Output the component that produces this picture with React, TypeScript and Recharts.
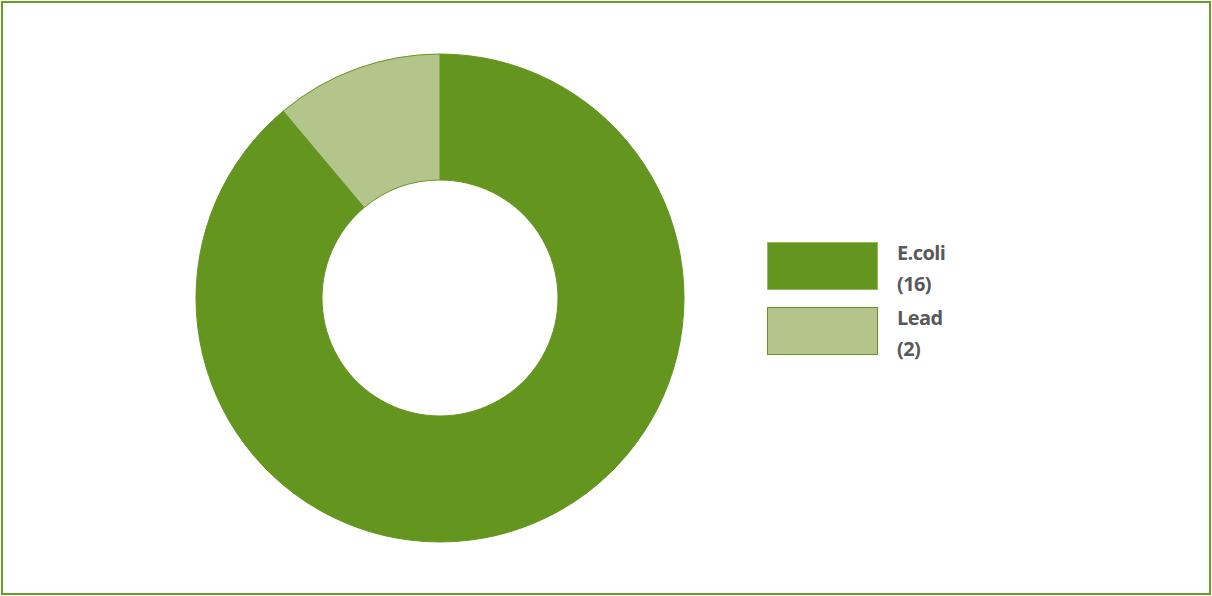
import React from 'react';
import { PieChart, Pie, Cell, Legend } from 'recharts';

const categories = ['E.coli', 'Lead'];
const values = [16, 2];
const fills = ['#64951F', '#B3C58B'];
const strokes = ['#64951F', '#64951F'];

const data = categories.map((name, i) => ({ name, value: values[i] }));

const renderLegend = () => (
  <div style={{ position: 'relative', width: 200, height: 120 }}>
    {categories.map((name, i) => (
      <div key={name} style={{ position: 'absolute', left: 0, top: i * 65, width: 200, height: 60 }}>
        <div
          style={{
            position: 'absolute',
            left: 0,
            top: 0,
            width: 111,
            height: 48,
            boxSizing: 'border-box',
            background: fills[i],
            border: `1.5px solid ${i === 0 ? '#9BBB59' : '#64951F'}`,
          }}
        />
        <div
          style={{
            position: 'absolute',
            left: 130,
            top: -5,
            fontFamily: '"Open Sans", sans-serif',
            fontWeight: 700,
            fontSize: 20,
            lineHeight: '31px',
            color: '#595959',
            letterSpacing: -0.6,
          }}
        >
          <div>{name}</div>
          <div>({values[i]})</div>
        </div>
      </div>
    ))}
  </div>
);

export default function App() {
  return (
    <div style={{ position: 'absolute', left: 0, top: 0, width: 1212, height: 596, background: '#fff' }}>
      <div
        style={{
          position: 'absolute',
          left: 1,
          top: 1,
          width: 1210,
          height: 594,
          boxSizing: 'border-box',
          border: '2px solid #6A9C2A',
        }}
      />
      <PieChart
        width={1212}
        height={596}
        margin={{ top: 0, right: 0, bottom: 0, left: 0 }}
        style={{ position: 'absolute', left: 0, top: 0 }}
      >
        <Pie
          data={data}
          dataKey="value"
          nameKey="name"
          cx={440}
          cy={298}
          innerRadius={118}
          outerRadius={244}
          startAngle={90}
          endAngle={-270}
          isAnimationActive={false}
          strokeWidth={1}
        >
          {data.map((d, i) => (
            <Cell key={d.name} fill={fills[i]} stroke={strokes[i]} />
          ))}
        </Pie>
        <Legend
          content={renderLegend}
          wrapperStyle={{ position: 'absolute', left: 767, top: 242, width: 200, height: 120 }}
        />
      </PieChart>
    </div>
  );
}
